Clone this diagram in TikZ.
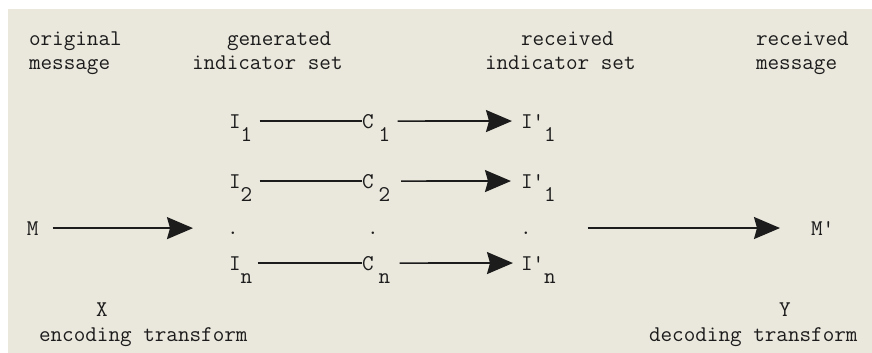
\documentclass[tikz,border=0pt]{standalone}
\usetikzlibrary{arrows.meta}
\definecolor{bgpaper}{RGB}{234,231,220}
\definecolor{ink}{RGB}{28,28,28}
\newcommand\sbx[1]{\raisebox{-13pt}[0pt][0pt]{#1}}
\begin{document}
\begin{tikzpicture}[x=1pt,y=-1pt,
  txt/.style={inner sep=0pt, outer sep=0pt, anchor=base west, text=ink,
    font=\ttfamily\fontsize{22.5}{27}\selectfont},
  link/.style={draw=ink, line width=1.7pt},
  arr/.style={link, -{Stealth[length=26pt,width=22pt,inset=3pt]}},
]
\fill[white] (0,0) rectangle (872,353);
\fill[bgpaper] (8,9) rectangle (872,353);
\useasboundingbox (0,0) rectangle (872,353);

% headers
\node[txt] (h1a) at (29,46) {original};
\node[txt] (h1b) at (29,70) {message};
\node[txt] (h2a) at (227,46) {generated};
\node[txt] (h2b) at (192,70) {indicator set};
\node[txt] (h3a) at (521,46) {received};
\node[txt] (h3b) at (485,70) {indicator set};
\node[txt] (h4a) at (756,46) {received};
\node[txt] (h4b) at (756,70) {message};

% rows
\node[txt] (I1) at (229,128) {I\sbx{1}};
\node[txt] (C1) at (362,128) {C\kern5pt\sbx{1}};
\node[txt] (J1) at (521,128) {I\textquotesingle\sbx{1}};

\node[txt] (I2) at (229,188) {I\sbx{2}};
\node[txt] (C2) at (362,188) {C\kern5pt\sbx{2}};
\node[txt] (J2) at (521,188) {I\textquotesingle\sbx{1}};

\node[txt] (d1) at (227,234) {.};
\node[txt] (d2) at (367,234) {.};
\node[txt] (d3) at (520,234) {.};

\node[txt] (In) at (229,270) {I\sbx{n}};
\node[txt] (Cn) at (362,270) {C\kern5pt\sbx{n}};
\node[txt] (Jn) at (521,270) {I\textquotesingle\sbx{n}};

\node[txt] (M) at (27,235) {M};
\node[txt] (Mp) at (811,235) {M\textquotesingle};

% bottom labels
\node[txt] (X) at (96,316) {X};
\node[txt] (enc) at (39,341) {encoding transform};
\node[txt] (Y) at (779,316) {Y};
\node[txt] (dec) at (649,341) {decoding transform};

% connectors
\draw[link, shorten <=7.5pt] (I1.east) -- (C1.west);
\draw[link, shorten <=7.5pt] (I2.east) -- (C2.west);
\draw[link, shorten <=5.5pt] (In.east) -- (Cn.west);
\draw[arr, shorten <=7.5pt, shorten >=9pt] (C1.east) -- (J1.west);
\draw[arr, shorten <=11pt, shorten >=10pt] (C2.east) -- (J2.west);
\draw[arr, shorten <=9.5pt, shorten >=8pt] (Cn.east) -- (Jn.west);
\draw[arr, shorten <=14pt, shorten >=34pt] (M.east) -- (M.east -| d1.west);
\draw[arr, shorten <=56pt, shorten >=31pt] (d3.east |- Mp.west) -- (Mp.west);
\end{tikzpicture}
\end{document}
